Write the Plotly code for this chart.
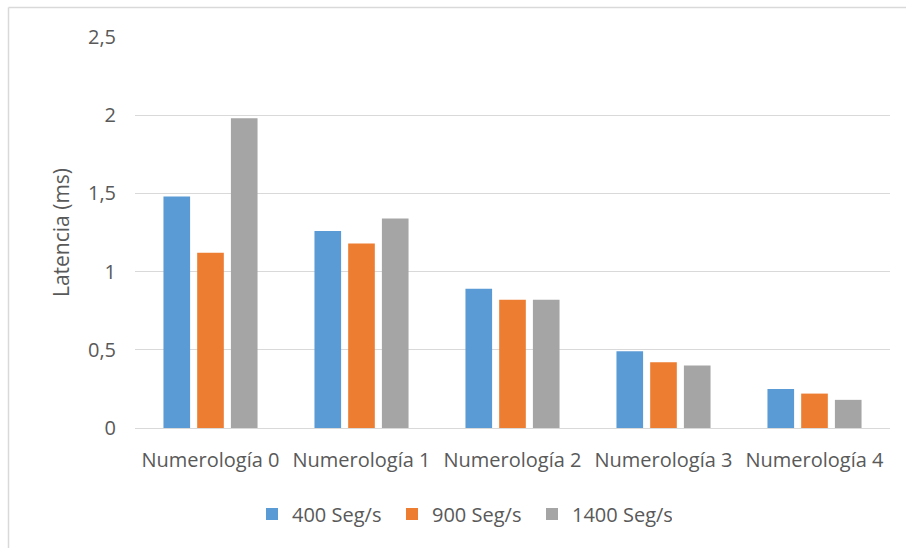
import plotly.graph_objects as go

# Latency per numerology for three segment rates
categories = ["Numerología 0", "Numerología 1", "Numerología 2", "Numerología 3", "Numerología 4"]
series_names = ["400 Seg/s", "900 Seg/s", "1400 Seg/s"]
lat_400 = [1.48, 1.26, 0.89, 0.49, 0.25]
lat_900 = [1.12, 1.18, 0.82, 0.42, 0.22]
lat_1400 = [1.98, 1.34, 0.82, 0.40, 0.18]
colors = ["#5B9BD5", "#ED7D31", "#A5A5A5"]

W, H = 906, 548
M_L, M_R, M_T, M_B = 135, 16, 37, 120
PW, PH = W - M_L - M_R, H - M_T - M_B

FONT = "Open Sans, Noto Sans, Liberation Sans, sans-serif"
TXT = "#595959"
GRID = "#D9D9D9"


def px_x(px):
    return (px - M_L) / PW


def px_y(py):
    return (H - M_B - py) / PH


fig = go.Figure()
for name, vals, col in zip(series_names, [lat_400, lat_900, lat_1400], colors):
    fig.add_trace(go.Bar(x=categories, y=vals, name=name,
                         marker=dict(color=col, line=dict(width=0))))

# chart-area frame (left and top edges)
bx, by = px_x(8.5), px_y(7.5)
fig.add_shape(type="line", xref="paper", yref="paper", x0=bx, x1=bx, y0=by, y1=px_y(H + 5),
              line=dict(color=GRID, width=1.5))
fig.add_shape(type="line", xref="paper", yref="paper", x0=bx, x1=px_x(W + 5), y0=by, y1=by,
              line=dict(color=GRID, width=1.5))

fig.update_layout(
    width=W, height=H,
    margin=dict(l=M_L, r=M_R, t=M_T, b=M_B, autoexpand=False),
    paper_bgcolor="white", plot_bgcolor="white",
    separators=",.",
    barmode="group", bargap=0.33, bargroupgap=0.21,
    font=dict(family=FONT, size=20, color=TXT),
    showlegend=True,
    legend=dict(orientation="h", x=px_x(252), xanchor="left", y=px_y(514), yanchor="middle",
                font=dict(family=FONT, size=20, color=TXT),
                itemwidth=30, entrywidth=95, entrywidthmode="pixels",
                bgcolor="rgba(0,0,0,0)", traceorder="normal"),
    xaxis=dict(showgrid=False, showline=False, zeroline=False, ticks="",
               tickfont=dict(family=FONT, size=20, color=TXT), ticklabelstandoff=18,
               automargin=False),
    yaxis=dict(range=[0, 2.5], dtick=0.5, tick0=0, showgrid=True, gridcolor=GRID, gridwidth=1.3,
               zeroline=True, zerolinecolor=GRID, zerolinewidth=1.3, showline=False, ticks="",
               tickfont=dict(family=FONT, size=20, color=TXT), ticklabelstandoff=18,
               title=dict(text="Latencia (ms)", font=dict(family=FONT, size=21, color=TXT), standoff=12),
               automargin=False),
)

fig.write_html("out.html")
